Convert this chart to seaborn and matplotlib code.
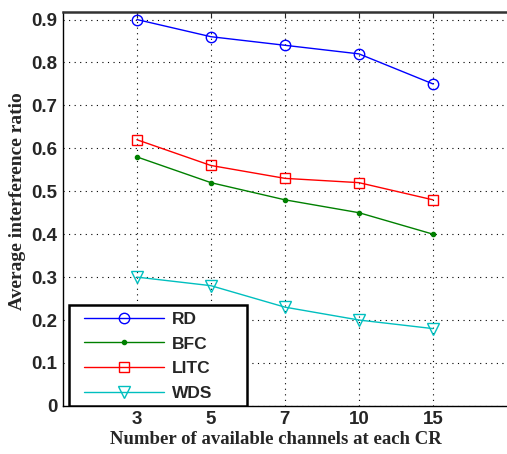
import numpy as np
import pandas as pd
import matplotlib
matplotlib.use("Agg")
import matplotlib.pyplot as plt
from matplotlib.patches import Rectangle
import seaborn as sns

categories = ["3", "5", "7", "10", "15"]
rd = [0.90, 0.86, 0.84, 0.82, 0.75]
bfc = [0.58, 0.52, 0.48, 0.45, 0.40]
litc = [0.62, 0.56, 0.53, 0.52, 0.48]
wds = [0.30, 0.28, 0.23, 0.20, 0.18]
series_names = ["RD", "BFC", "LITC", "WDS"]
yticks = [0, 0.1, 0.2, 0.3, 0.4, 0.5, 0.6, 0.7, 0.8, 0.9]
ytick_labels = ["0", "0.1", "0.2", "0.3", "0.4", "0.5", "0.6", "0.7", "0.8", "0.9"]

sns.set_style("white")
plt.rcParams['font.family'] = ['Liberation Sans', 'DejaVu Sans']

fig = plt.figure(figsize=(5.07, 4.54), dpi=100)
ax = fig.add_axes([0.124, 0.106, 0.876, 0.868])

pos = np.arange(1, len(categories) + 1)
styles = {
    "RD": dict(color="#0000ff", marker="o", markersize=7.5, markerfacecolor="none"),
    "BFC": dict(color="#008000", marker=".", markersize=6, markerfacecolor="#008000"),
    "LITC": dict(color="#ff0000", marker="s", markersize=6.8, markerfacecolor="none"),
    "WDS": dict(color="#00bfbf", marker="v", markersize=8, markerfacecolor="none"),
}
data = {"RD": rd, "BFC": bfc, "LITC": litc, "WDS": wds}
for name in series_names:
    st = styles[name]
    sns.lineplot(x=pos, y=data[name], ax=ax, label=name, linewidth=1.0,
                 color=st["color"], marker=st["marker"], markersize=st["markersize"],
                 markerfacecolor=st["markerfacecolor"], markeredgecolor=st["color"],
                 markeredgewidth=1.0)

ax.set_xlim(0, 6)
ax.set_ylim(0, 0.918)
ax.set_xticks(pos)
ax.set_xticklabels(categories)
ax.set_yticks(yticks)
ax.set_yticklabels(ytick_labels)
ax.grid(True, color="black", linestyle=(0, (1, 4)), linewidth=0.8)
ax.tick_params(direction="in", length=4, width=0.8, labelsize=13.5, pad=4, top=True)
for lab in ax.get_xticklabels() + ax.get_yticklabels():
    lab.set_fontweight("bold")

for s in ["left", "bottom"]:
    ax.spines[s].set_color("black")
    ax.spines[s].set_linewidth(1.0)
ax.spines["top"].set_color("#333333")
ax.spines["top"].set_linewidth(1.8)
ax.spines["right"].set_visible(False)

ax.set_xlabel("Number of available channels at each CR", fontsize=13.5, fontweight="bold",
              family="Liberation Serif")
ax.xaxis.set_label_coords(0.48, -0.063)
ax.set_ylabel("Average interference ratio", fontsize=14, fontweight="bold",
              family="Liberation Serif")
ax.yaxis.set_label_coords(-0.083, 0.52)

# legend frame (MATLAB-style box with extra right padding)
frame = Rectangle((0.0135, 0.0), 0.401, 0.256, transform=ax.transAxes,
                  facecolor="white", edgecolor="black", linewidth=1.8, zorder=4.5)
ax.add_patch(frame)
leg = ax.legend(loc="center left", bbox_to_anchor=(0.048, 0.126), fontsize=12.5, handlelength=4.6,
                frameon=False, borderpad=0, labelspacing=0.54, handletextpad=0.45,
                borderaxespad=0)
leg.set_zorder(5)
for t in leg.get_texts():
    t.set_fontweight("bold")

fig.savefig("out.png", dpi=100)
